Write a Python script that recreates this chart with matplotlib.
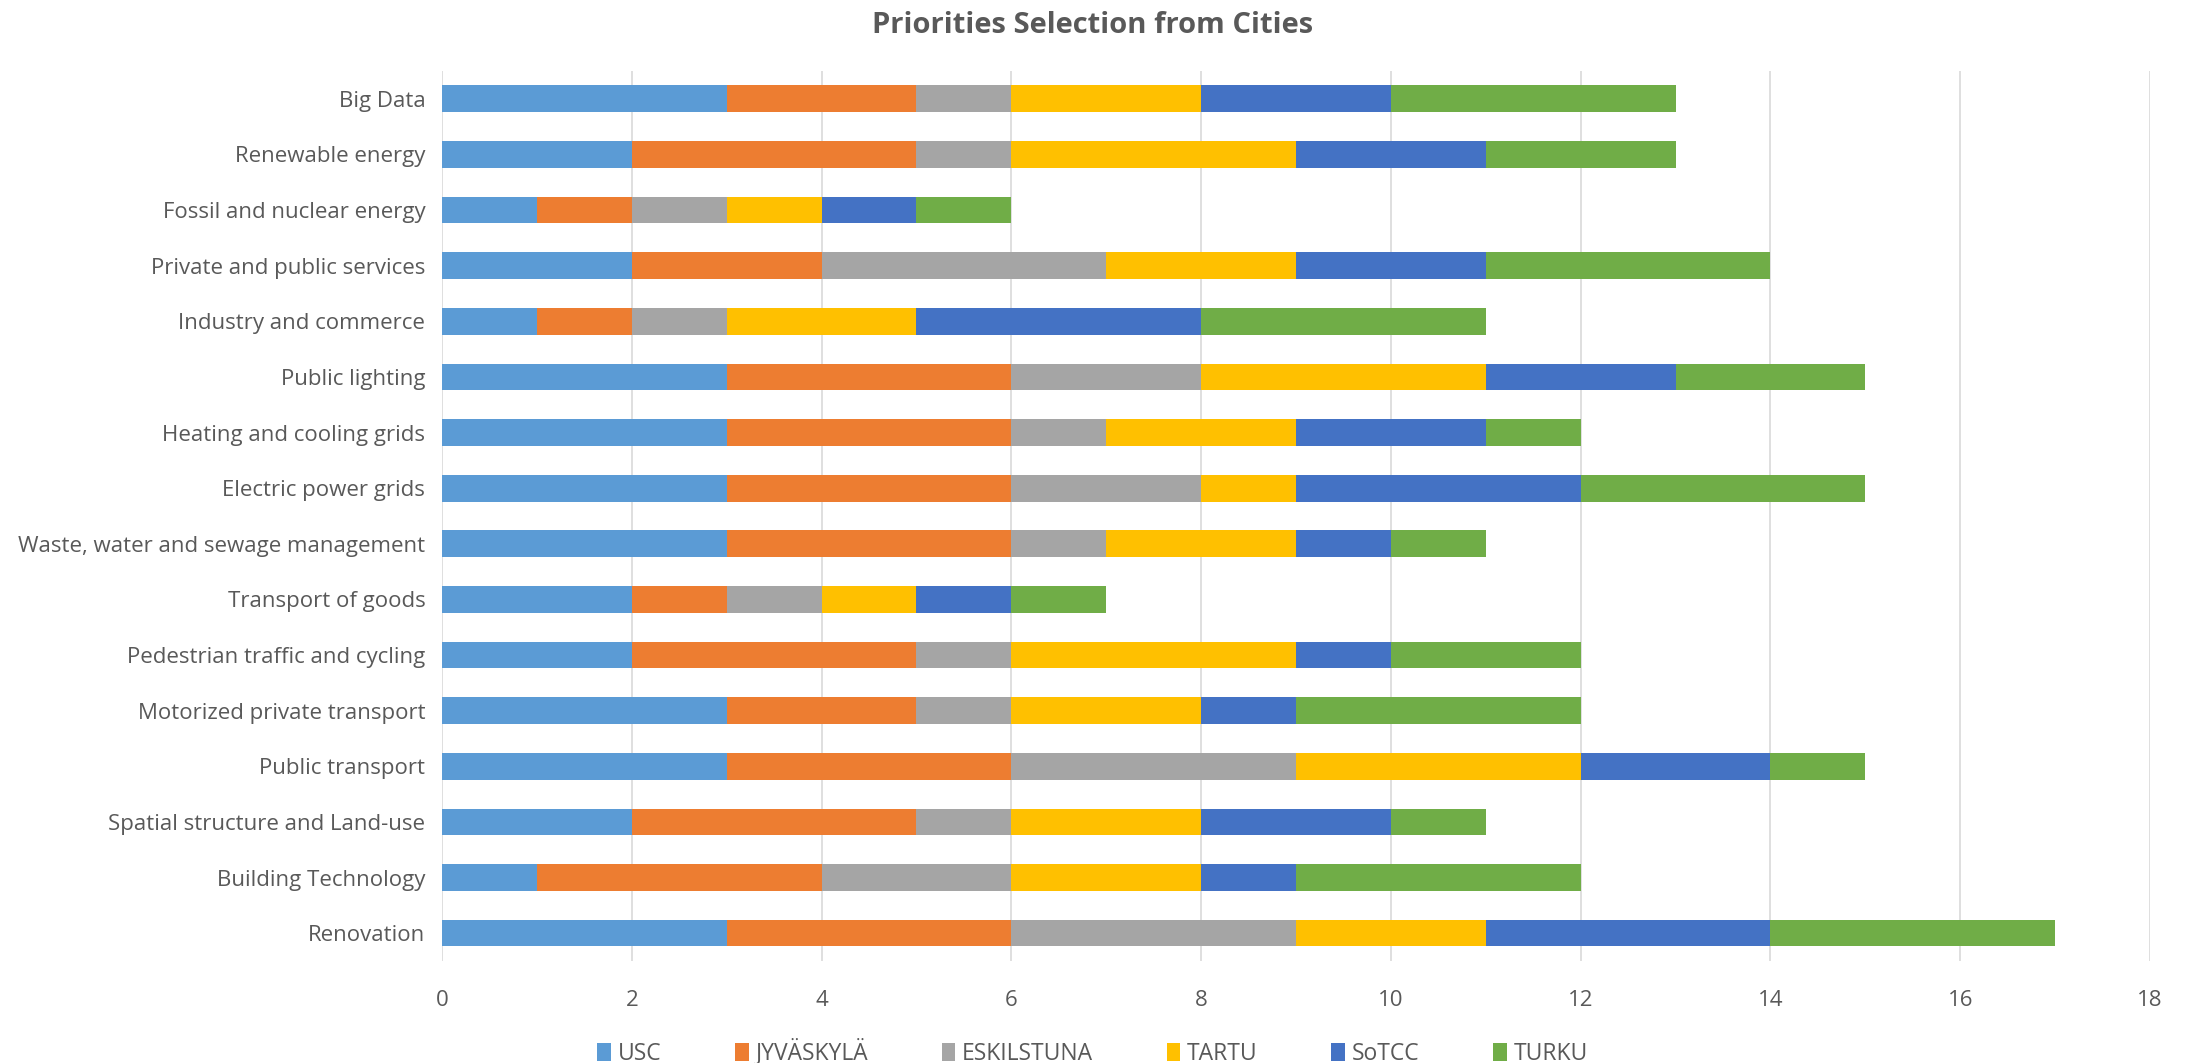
import matplotlib
matplotlib.use("Agg")
import matplotlib.pyplot as plt
import numpy as np

categories = ["Big Data", "Renewable energy", "Fossil and nuclear energy",
              "Private and public services", "Industry and commerce", "Public lighting",
              "Heating and cooling grids", "Electric power grids",
              "Waste, water and sewage management", "Transport of goods",
              "Pedestrian traffic and cycling", "Motorized private transport",
              "Public transport", "Spatial structure and Land-use",
              "Building Technology", "Renovation"]
series_names = ["USC", "JYVÄSKYLÄ", "ESKILSTUNA", "TARTU", "SoTCC", "TURKU"]
usc        = [3, 2, 1, 2, 1, 3, 3, 3, 3, 2, 2, 3, 3, 2, 1, 3]
jyvaskyla  = [2, 3, 1, 2, 1, 3, 3, 3, 3, 1, 3, 2, 3, 3, 3, 3]
eskilstuna = [1, 1, 1, 3, 1, 2, 1, 2, 1, 1, 1, 1, 3, 1, 2, 3]
tartu      = [2, 3, 1, 2, 2, 3, 2, 1, 2, 1, 3, 2, 3, 2, 2, 2]
sotcc      = [2, 2, 1, 2, 3, 2, 2, 3, 1, 1, 1, 1, 2, 2, 1, 3]
turku      = [3, 2, 1, 3, 3, 2, 1, 3, 1, 1, 2, 3, 1, 1, 3, 3]
x_ticks = [0, 2, 4, 6, 8, 10, 12, 14, 16, 18]

colors = ["#5B9BD5", "#ED7D31", "#A5A5A5", "#FFC000", "#4472C4", "#70AD47"]
txt = "#595959"
plt.rcParams['font.family'] = ['Open Sans', 'DejaVu Sans']

fig = plt.figure(figsize=(21.85, 10.63), dpi=100)
ax = fig.add_axes([0.2023, 0.096, 0.984 - 0.2023, 0.9332 - 0.096])

y = np.arange(len(categories))
left = np.zeros(len(categories))
for name, vals, c in zip(series_names, [usc, jyvaskyla, eskilstuna, tartu, sotcc, turku], colors):
    v = np.array(vals, dtype=float)
    ax.barh(y, v, left=left, height=0.48, color=c, label=name, zorder=3)
    left += v

ax.set_ylim(len(categories) - 0.5, -0.5)
ax.set_xlim(0, 18)
ax.set_xticks(x_ticks)
ax.set_yticks(y)
ax.set_yticklabels(categories)
ax.tick_params(axis='both', length=0, labelsize=16, colors=txt)
ax.tick_params(axis='y', pad=12)
ax.tick_params(axis='x', pad=21)
ax.grid(axis='x', color="#D9D9D9", linewidth=1.2, zorder=0)
for s in ax.spines.values():
    s.set_visible(False)

fig.suptitle("Priorities Selection from Cities", x=0.5, y=0.99, fontsize=21,
             fontweight='bold', color=txt, va='top')
leg = fig.legend(loc='lower center', bbox_to_anchor=(0.5, -0.022), ncol=6, frameon=False,
                 fontsize=16.5, handlelength=0.6, handleheight=0.8, handletextpad=0.3,
                 columnspacing=3.2)
for t in leg.get_texts():
    t.set_color(txt)

fig.savefig("out.png", dpi=100)
